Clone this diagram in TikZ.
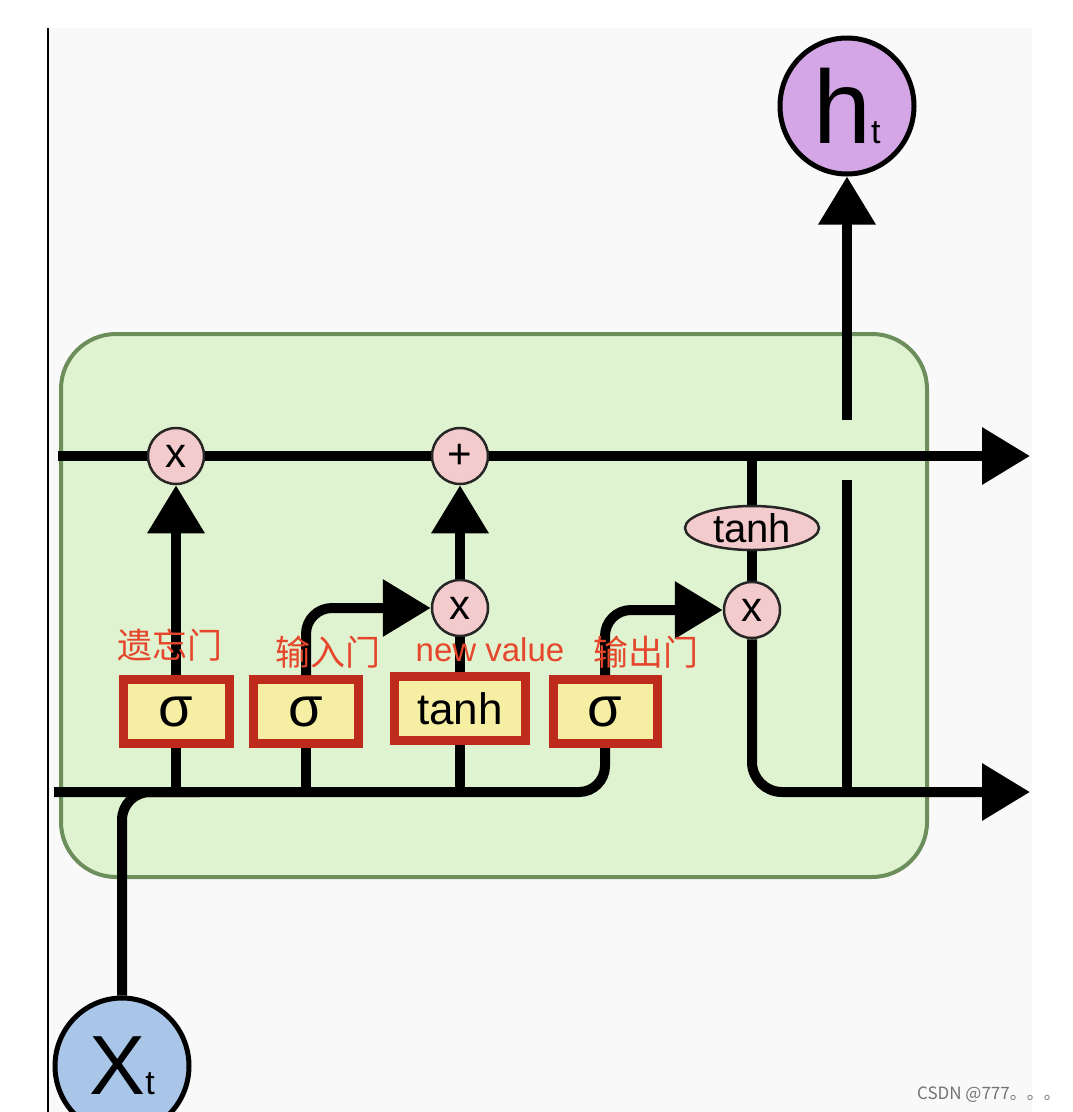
\documentclass[tikz,border=0pt]{standalone}
\usepackage{fontspec}
\setmainfont{Liberation Sans}
\newfontfamily\cjk{Noto Sans CJK SC}
\usetikzlibrary{arrows.meta,shapes.geometric}
\definecolor{panelgray}{HTML}{F9F9F9}
\definecolor{cellgreen}{HTML}{E0F3D0}
\definecolor{cellborder}{HTML}{6C8E5A}
\definecolor{oppink}{HTML}{F4CBCC}
\definecolor{gatered}{HTML}{BE2A1C}
\definecolor{gateyel}{HTML}{F6EEA2}
\definecolor{lblred}{HTML}{E5462C}
\definecolor{htpurple}{HTML}{D4A6E6}
\definecolor{xtblue}{HTML}{A9C6E8}
\begin{document}
\begin{tikzpicture}[x=1pt,y=-1pt,
  wire/.style={line width=10pt, black},
  arr/.style={wire, -{Triangle[length=48pt,width=55pt]}},
  opc/.style={circle, draw=black!85, line width=2.5pt, fill=oppink, minimum size=56pt, inner sep=0pt, font=\fontsize{42}{42}\selectfont},
  gatebox/.style={draw=gatered, line width=9pt, fill=gateyel, minimum height=64pt, inner sep=0pt, font=\fontsize{56}{56}\selectfont},
  lbl/.style={text=lblred, inner sep=0pt, font=\fontsize{33}{33}\selectfont},
  cjklbl/.style={lbl, font=\cjk\fontsize{35}{35}\selectfont},
  bigc/.style={ellipse, draw=black, line width=5pt, minimum width=134pt, minimum height=136pt, inner sep=0pt}]
\useasboundingbox (0,0) rectangle (1072,1112);
\clip (0,0) rectangle (1072,1112);
% panel
\fill[panelgray] (48,28) rectangle (1032,1112);
\draw[line width=2pt] (48,28) -- (48,1112);
% green cell
\draw[fill=cellgreen, draw=cellborder, line width=4pt, rounded corners=55pt] (61,334) rectangle (927,877);

% nodes
\node[opc] (fx) at (176,456) {x};
\node[opc] (px) at (460,456) {+};
\node[opc] (mx) at (460,608) {x};
\node[opc] (ox) at (752,610) {x};
\node[ellipse, draw=black!85, line width=2.5pt, fill=oppink, minimum width=134pt, minimum height=44pt, inner sep=0pt, font=\fontsize{40}{40}\selectfont] (th) at (752,528) {tanh};

\node[gatebox, minimum width=106pt] (s1) at (176,711.5) {σ};
\node[gatebox, minimum width=105pt] (s2) at (306,711.5) {σ};
\node[gatebox, minimum width=131pt, font=\fontsize{44}{44}\selectfont] (s3) at (460,708.5) {tanh};
\node[gatebox, minimum width=104pt] (s4) at (605,711.5) {σ};

\node[bigc, fill=htpurple] (ht) at (847,106) {\fontsize{104}{104}\selectfont h\fontsize{34}{34}\selectfont t};
\node[bigc, fill=xtblue] (xt) at (122,1066) {\fontsize{84}{84}\selectfont X\fontsize{34}{34}\selectfont t};

% coordinates
\coordinate (cstart) at (58,456);
\coordinate (cend) at (1030,456);
\coordinate (bstart) at (54,792);
\coordinate (hend) at (1030,792);
\coordinate (tap) at (752,456);
\coordinate (hv1) at (847,480);
\coordinate (hv2) at (847,792);
\coordinate (hv3) at (847,420);
\coordinate (b1) at (176,792);
\coordinate (b2) at (306,792);
\coordinate (b3) at (460,792);
\coordinate (xj) at (200,792);

% cell state line
\draw[wire] (cstart) -- (fx.west);
\draw[wire] (fx.east) -- (px.west);
\draw[arr] (px.east) -- (cend);
% bottom input line
\draw[wire, rounded corners=26pt] (bstart) -| (s4.south);
\draw[wire, rounded corners=28pt] (xt.north) |- (xj);
\draw[wire] (b1) -- (s1.south);
\draw[wire] (b2) -- (s2.south);
\draw[wire] (b3) -- (s3.south);
% gates up
\draw[arr] (s1.north) -- (fx.south);
\draw[arr, rounded corners=26pt] (s2.north) |- (mx.west);
\draw[wire] (s3.north) -- (mx.south);
\draw[arr] (mx.north) -- (px.south);
\draw[arr, rounded corners=26pt] (s4.north) |- (ox.west);
% output part
\draw[wire] (tap) -- (th.north);
\draw[wire] (th.south) -- (ox.north);
\draw[arr, rounded corners=30pt] (ox.south) |- (hend);
\draw[wire] (hv1) -- (hv2);
\draw[arr] (hv3) -- (ht.south);

% labels (on top of the wires)
\node[cjklbl] (l1) at (170,645) {遗忘门};
\node[cjklbl] (l2) at (328,652) {输入门};
\node[lbl] (l3) at (490,650) {new value};
\node[cjklbl] (l4) at (646,652) {输出门};

% watermark
\node[text=black!55, inner sep=0pt, font=\cjk\fontsize{17}{17}\selectfont] (wm) at (989,1095) {CSDN @777。。。};
\end{tikzpicture}
\end{document}
